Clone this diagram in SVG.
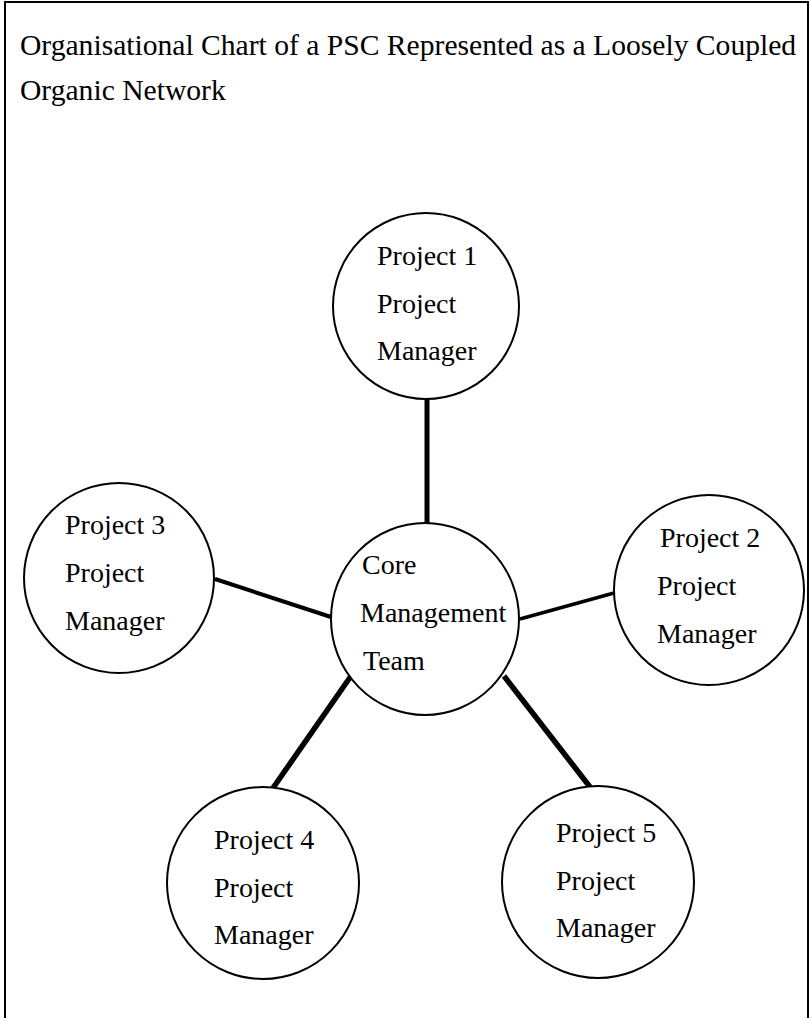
<svg xmlns="http://www.w3.org/2000/svg" width="811" height="1018" viewBox="0 0 811 1018">
  <style>
    .frame { fill: none; stroke: #000; stroke-width: 2; }
    .node { fill: #fff; stroke: #000; stroke-width: 2; }
    .lbl { font-family: "Liberation Serif", "Times New Roman", serif; font-size: 28px; fill: #000; }
    .title { font-family: "Liberation Serif", "Times New Roman", serif; font-size: 29.6px; fill: #000; }
    .link { stroke: #000; stroke-linecap: butt; fill: none; }
  </style>
  <rect width="811" height="1018" fill="#fff"/>
  <!-- page frame, open at the bottom -->
  <path class="frame" d="M5,1018 V2 H808 V1018"/>

  <g id="title">
    <text class="title" x="20" y="55">Organisational Chart of a PSC Represented as a Loosely Coupled</text>
    <text class="title" x="20" y="100">Organic Network</text>
  </g>

  <!-- spokes from the core team to each project -->
  <g id="connectors">
    <line class="link" x1="427" y1="399" x2="427" y2="523" stroke-width="5"/>
    <line class="link" x1="520" y1="619" x2="614" y2="593" stroke-width="3.5"/>
    <line class="link" x1="215" y1="579" x2="331" y2="617" stroke-width="4"/>
    <line class="link" x1="351" y1="676" x2="273" y2="788" stroke-width="5.5"/>
    <line class="link" x1="504" y1="676" x2="590" y2="787" stroke-width="5.5"/>
  </g>

  <g id="core">
    <ellipse class="node" cx="425" cy="619" rx="94" ry="96"/>
    <text class="lbl" x="362" y="574">Core</text>
    <text class="lbl" x="360" y="622">Management</text>
    <text class="lbl" x="363" y="670">Team</text>
  </g>

  <g id="project1">
    <circle class="node" cx="426" cy="306" r="93"/>
    <text class="lbl" x="377" y="265">Project 1</text>
    <text class="lbl" x="377" y="313">Project</text>
    <text class="lbl" x="377" y="360">Manager</text>
  </g>

  <g id="project2">
    <circle class="node" cx="709" cy="590" r="95"/>
    <text class="lbl" x="660" y="547">Project 2</text>
    <text class="lbl" x="657" y="595">Project</text>
    <text class="lbl" x="657" y="643">Manager</text>
  </g>

  <g id="project3">
    <circle class="node" cx="119" cy="578" r="95"/>
    <text class="lbl" x="65" y="534">Project 3</text>
    <text class="lbl" x="65" y="582">Project</text>
    <text class="lbl" x="65" y="630">Manager</text>
  </g>

  <g id="project4">
    <circle class="node" cx="263" cy="883" r="96"/>
    <text class="lbl" x="214" y="849">Project 4</text>
    <text class="lbl" x="214" y="897">Project</text>
    <text class="lbl" x="214" y="944">Manager</text>
  </g>

  <g id="project5">
    <circle class="node" cx="598" cy="882" r="96"/>
    <text class="lbl" x="556" y="842">Project 5</text>
    <text class="lbl" x="556" y="890">Project</text>
    <text class="lbl" x="556" y="937">Manager</text>
  </g>
</svg>
